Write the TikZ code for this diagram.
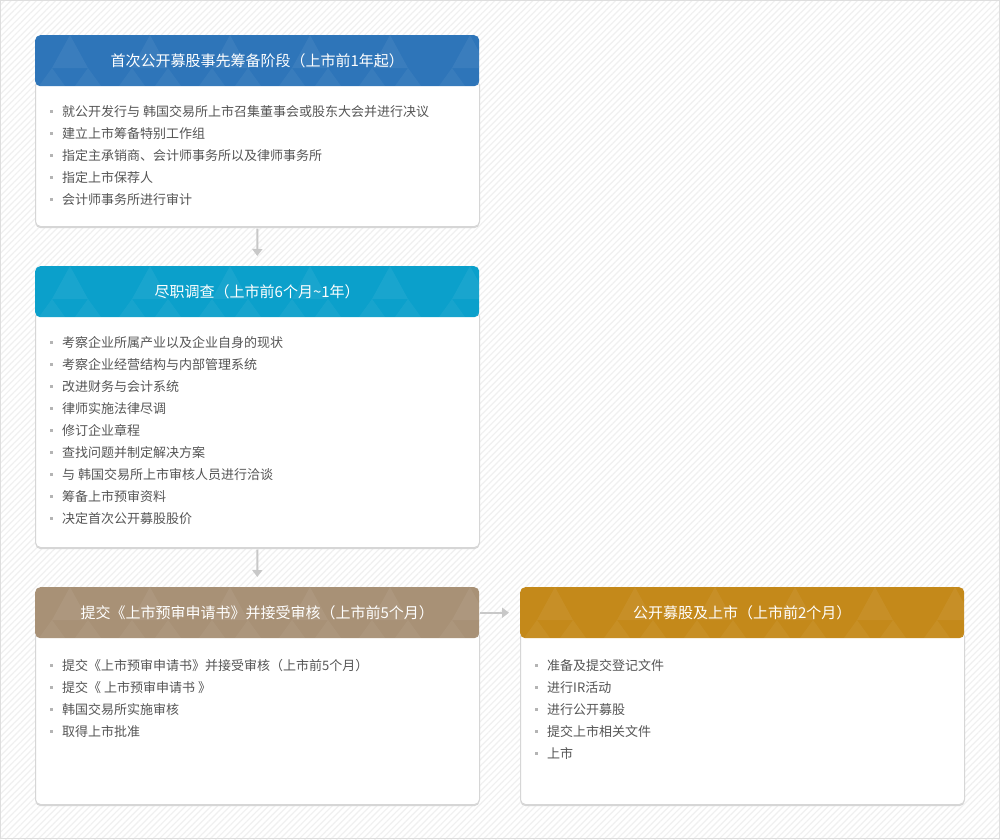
\documentclass[tikz,border=0pt]{standalone}
\usepackage{fontspec}
\setmainfont{Noto Sans CJK SC}
\usetikzlibrary{patterns.meta,arrows.meta}
\definecolor{hblue}{HTML}{2E75B9}
\definecolor{hcyan}{HTML}{0BA0CB}
\definecolor{htaupe}{HTML}{A89176}
\definecolor{hgold}{HTML}{C4891A}
\definecolor{itemtext}{HTML}{555555}
\definecolor{bulletc}{HTML}{B4B4B4}
\definecolor{boxline}{HTML}{D6D6D6}
\definecolor{connc}{HTML}{C8C8C8}
\newcommand\hdrtri[1]{%
  \begin{scope}[shift={(#1.north west)}]
    \clip[rounded corners=5pt] (0,0) rectangle (444,51);
    \foreach \k in {0,...,5}{
      \fill[white,opacity=0.06] ({35+80*\k},0) -- ++(-18,33) -- ++(36,0) -- cycle;
      \fill[white,opacity=0.05] ({17+80*\k},33) -- ++(-13,18) -- ++(26,0) -- cycle;
      \fill[white,opacity=0.05] ({53+80*\k},33) -- ++(-13,18) -- ++(26,0) -- cycle;
    }
  \end{scope}}
\begin{document}
\begin{tikzpicture}[x=1pt,y=-1pt,
  hdr/.style={rectangle,rounded corners=5pt,minimum width=444pt,minimum height=51pt,
    anchor=north west,text=white,font=\fontsize{15}{18}\selectfont,
    text height=12.5pt,text depth=1.5pt,inner sep=0pt},
  bodybox/.style={rectangle,rounded corners=5pt,minimum width=444pt,anchor=north west,
    fill=white,draw=boxline,line width=1pt,inner sep=0pt,
    preaction={fill=black!16,transform canvas={yshift=-1.6pt}}},
  item/.style={anchor=base west,inner sep=0pt,text=itemtext,font=\fontsize{13}{15}\selectfont},
  conn/.style={draw=connc,line width=2pt,-{Triangle[width=10pt,length=7pt]}}]
\useasboundingbox (0,0) rectangle (1000,839);
\fill[white] (0,0) rectangle (1000,839);
\fill[pattern={Lines[angle=45,distance=4.5pt,line width=1.2pt]},pattern color=black!6] (0,0) rectangle (1000,839);
\draw[black!13,line width=1pt] (0.5,0.5) rectangle (999.5,838.5);

% box 1
\node[bodybox,minimum height=146pt] (b1) at (35,80) {};
\node[hdr,fill=hblue] (h1) at (35,35) {首次公开募股事先筹备阶段（上市前1年起）};
\hdrtri{h1}
\foreach \t [count=\i] in {就公开发行与 韩国交易所上市召集董事会或股东大会并进行决议,
  建立上市筹备特别工作组,指定主承销商、会计师事务所以及律师事务所,指定上市保荐人,会计师事务所进行审计}{
  \fill[bulletc] (50,{109.5+22*(\i-1)}) rectangle ++(3,3);
  \node[item] (a\i) at (62,{116+22*(\i-1)}) {\t};
}

% box 2
\node[bodybox,minimum height=236pt] (b2) at (35,311) {};
\node[hdr,fill=hcyan] (h2) at (35,266) {尽职调查（上市前6个月\textasciitilde 1年）};
\hdrtri{h2}
\foreach \t [count=\i] in {考察企业所属产业以及企业自身的现状,考察企业经营结构与内部管理系统,
  改进财务与会计系统,律师实施法律尽调,修订企业章程,查找问题并制定解决方案,
  与 韩国交易所上市审核人员进行洽谈,筹备上市预审资料,决定首次公开募股股价}{
  \fill[bulletc] (50,{340.5+22*(\i-1)}) rectangle ++(3,3);
  \node[item] (c\i) at (62,{347+22*(\i-1)}) {\t};
}

% box 3
\node[bodybox,minimum height=173pt] (b3) at (35,631) {};
\node[hdr,fill=htaupe] (h3) at (35,587) {提交《上市预审申请书》并接受审核（上市前5个月）};
\hdrtri{h3}
\foreach \t [count=\i] in {提交《上市预审申请书》并接受审核（上市前5个月）,提交《 上市预审申请书 》,
  韩国交易所实施审核,取得上市批准}{
  \fill[bulletc] (50,{663.5+22*(\i-1)}) rectangle ++(3,3);
  \node[item] (d\i) at (62,{670+22*(\i-1)}) {\t};
}

% box 4
\node[bodybox,minimum height=173pt] (b4) at (520,631) {};
\node[hdr,fill=hgold] (h4) at (520,587) {公开募股及上市（上市前2个月）};
\hdrtri{h4}
\foreach \t [count=\i] in {准备及提交登记文件,进行IR活动,进行公开募股,提交上市相关文件,上市}{
  \fill[bulletc] (535,{663.5+22*(\i-1)}) rectangle ++(3,3);
  \node[item] (e\i) at (547,{670+22*(\i-1)}) {\t};
}

% connectors
\draw[conn,shorten <=1.5pt,shorten >=10pt] (b1.south) -- (h2.north);
\draw[conn,shorten <=1.5pt,shorten >=10pt] (b2.south) -- (h3.north);
\draw[conn,shorten <=1pt,shorten >=11pt] (h3.east) -- (h4.west);
\end{tikzpicture}
\end{document}
